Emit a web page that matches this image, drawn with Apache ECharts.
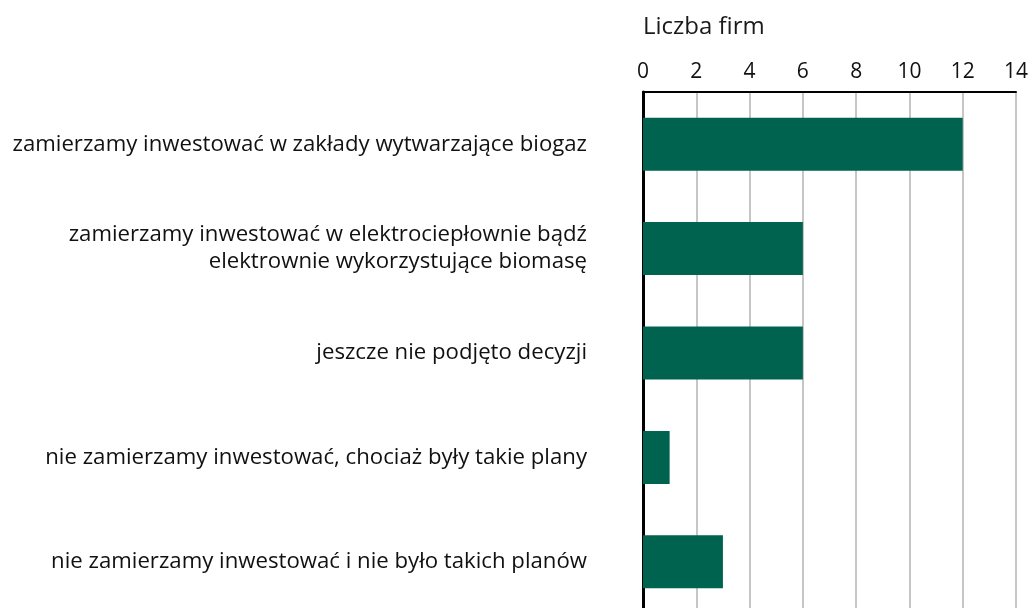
<!DOCTYPE html>
<html><head><meta charset="utf-8">
<script src="https://cdn.jsdelivr.net/npm/echarts@6/dist/echarts.min.js"></script>
<style>html,body{margin:0;padding:0;background:#fff}#c{width:1030px;height:608px}</style>
</head><body><div id="c"></div>
<script>
const categories = [
  'zamierzamy inwestować w zakłady wytwarzające biogaz',
  'zamierzamy inwestować w elektrociepłownie bądź\nelektrownie wykorzystujące biomasę',
  'jeszcze nie podjęto decyzji',
  'nie zamierzamy inwestować, chociaż były takie plany',
  'nie zamierzamy inwestować i nie było takich planów'
];
const values = [12, 6, 6, 1, 3];
const axisTitle = 'Liczba firm';

const chart = echarts.init(document.getElementById('c'));
const font = 'Open Sans';
chart.setOption({
  animation: false,
  title: { text: axisTitle, left: 638, top: 10,
    textStyle: { fontFamily: font, fontSize: 24, fontWeight: 'normal', color: '#1a1a1a' } },
  grid: { left: 643, width: 373, top: 92, height: 522, containLabel: false, outerBoundsMode: 'none' },
  xAxis: {
    type: 'value', position: 'top', min: 0, max: 14, interval: 2,
    axisLine: { show: true, lineStyle: { color: '#000', width: 2 } },
    axisTick: { show: false },
    axisLabel: { margin: 9, fontFamily: font, fontSize: 21, color: '#111' },
    splitLine: { show: true, lineStyle: { color: '#b3b3b3', width: 1.5 } }
  },
  yAxis: {
    type: 'category', inverse: true, data: categories,
    axisLine: { show: true, lineStyle: { color: '#000', width: 3 } },
    axisTick: { show: false },
    axisLabel: { margin: 56, fontFamily: font, fontSize: 22.2, lineHeight: 27, color: '#111', align: 'right' }
  },
  series: [{
    type: 'bar', data: values, barWidth: 53,
    itemStyle: { color: '#00634f' }
  }]
});
</script></body></html>
